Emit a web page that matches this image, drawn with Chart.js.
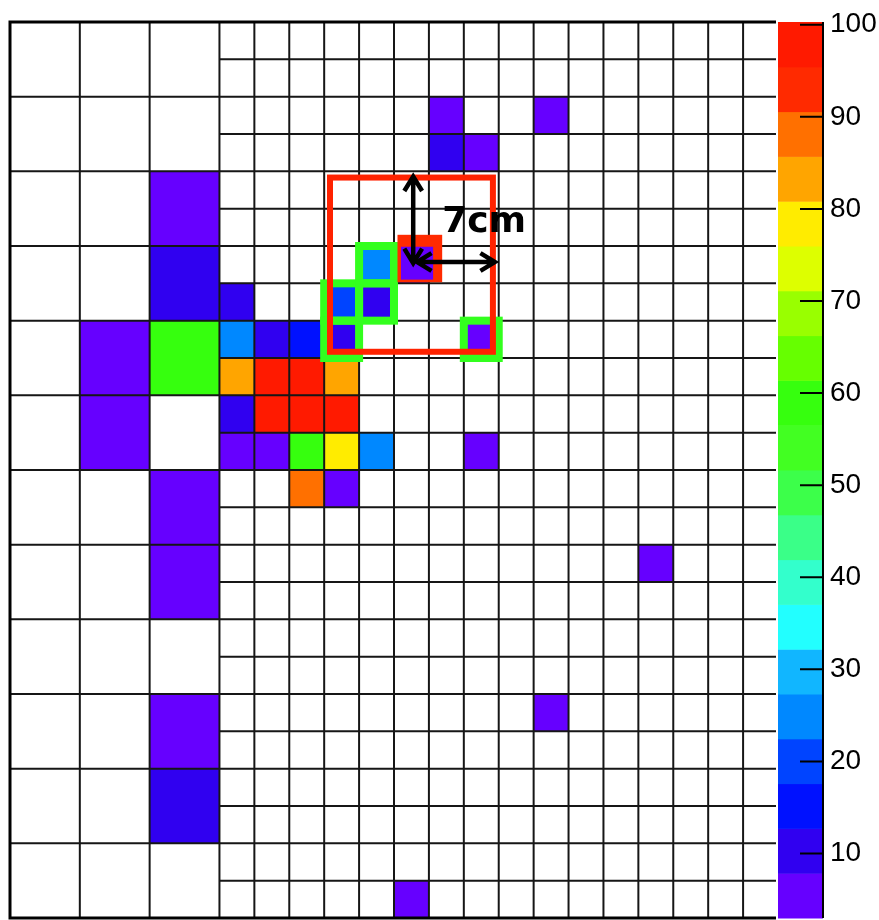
<!DOCTYPE html>
<html>
<head>
<meta charset="utf-8">
<script src="https://cdn.jsdelivr.net/npm/chart.js@4.4.1/dist/chart.umd.min.js"></script>
<style>
  html, body { margin: 0; padding: 0; background: #ffffff; }
  #wrap { width: 879px; height: 920px; position: relative; }
</style>
</head>
<body>
<div id="wrap"><canvas id="c" width="879" height="920"></canvas></div>
<script>
// ---- data ----
// coarse cells: [column, row, value] in coarse units (each coarse cell = 2x2 fine cells), row 0 = top
const coarseCells = [
  [2, 2, 5], [2, 3, 10], [1, 4, 5], [2, 4, 59], [1, 5, 5],
  [2, 6, 5], [2, 7, 5], [2, 9, 5], [2, 10, 11]
];
// fine cells: [column, row, value] in fine units, row 0 = top
const fineCells = [
  [12, 2, 5], [15, 2, 5], [12, 3, 10], [13, 3, 5],
  [10, 6, 25], [11, 6, 5],
  [6, 7, 11], [9, 7, 20], [10, 7, 10],
  [6, 8, 25], [7, 8, 10], [8, 8, 15], [9, 8, 10], [13, 8, 5],
  [6, 9, 83], [7, 9, 97], [8, 9, 96], [9, 9, 83],
  [6, 10, 10], [7, 10, 97], [8, 10, 96], [9, 10, 97],
  [6, 11, 5], [7, 11, 5], [8, 11, 59], [9, 11, 78], [10, 11, 25], [13, 11, 5],
  [8, 12, 88], [9, 12, 5],
  [18, 14, 5], [15, 18, 5], [11, 23, 5]
];
const nCoarseCols = 3, nFineCols = 22, nFineRows = 24;
const colorTicks = [10, 20, 30, 40, 50, 60, 70, 80, 90, 100];
const zMin = 3, zMax = 100.3;
const palette = [
  '#6600ff', '#3000f0', '#0011ff', '#0044ff', '#0088ff',
  '#11b6ff', '#22ffff', '#33ffcc', '#3aff88', '#3cff4a',
  '#42ff22', '#36ff0e', '#66ff00', '#99ff00', '#ddff00',
  '#ffec00', '#ffa500', '#ff7000', '#ff2a00', '#ff1a00'
];
const selectedCells = [[10, 6], [9, 7], [10, 7], [9, 8], [13, 8]];
const seedCell = [11, 6];
const cellSizeCm = 3;
const boxHalfCm = 7;
const boxLabel = '7cm';

function colorFor(v) {
  const n = palette.length;
  let i = Math.floor((v - zMin) / ((zMax - zMin) / n));
  i = Math.max(0, Math.min(n - 1, i));
  return palette[i];
}

const heatmapPlugin = {
  id: 'heatmap',
  beforeDraw(chart) {
    const ctx = chart.ctx;
    ctx.save();
    ctx.fillStyle = '#ffffff';
    ctx.fillRect(0, 0, chart.width, chart.height);
    ctx.restore();
  },
  afterDatasetsDraw(chart) {
    const ctx = chart.ctx;
    const xs = chart.scales.x, ys = chart.scales.y, zs = chart.scales.z;
    const X = v => xs.getPixelForValue(v);
    const Y = v => ys.getPixelForValue(v);
    const rect = (x0, y0, x1, y1) => [X(x0), Y(y0), X(x1) - X(x0), Y(y1) - Y(y0)];
    const coarseW = (nCoarseCols * 2);
    ctx.save();

    // cells
    coarseCells.forEach(([c, r, v]) => {
      ctx.fillStyle = colorFor(v);
      ctx.fillRect(...rect(c * 2, r * 2, c * 2 + 2, r * 2 + 2));
    });
    fineCells.forEach(([c, r, v]) => {
      ctx.fillStyle = colorFor(v);
      ctx.fillRect(...rect(c, r, c + 1, r + 1));
    });

    // grid lines
    ctx.strokeStyle = '#161616';
    ctx.lineWidth = 2;
    ctx.beginPath();
    for (let c = 1; c <= nCoarseCols; c++) {
      ctx.moveTo(X(c * 2), Y(0)); ctx.lineTo(X(c * 2), Y(nFineRows));
    }
    for (let r = 2; r < nFineRows; r += 2) {
      ctx.moveTo(X(0), Y(r)); ctx.lineTo(X(coarseW), Y(r));
    }
    for (let c = coarseW + 1; c < nFineCols; c++) {
      ctx.moveTo(X(c), Y(0)); ctx.lineTo(X(c), Y(nFineRows));
    }
    for (let r = 1; r < nFineRows; r++) {
      ctx.moveTo(X(coarseW), Y(r)); ctx.lineTo(X(nFineCols) - 2, Y(r));
    }
    ctx.stroke();

    // frame (left, top, bottom)
    ctx.strokeStyle = '#000000';
    ctx.lineWidth = 3;
    ctx.beginPath();
    ctx.moveTo(X(nFineCols) - 2, Y(0)); ctx.lineTo(X(0), Y(0));
    ctx.lineTo(X(0), Y(nFineRows)); ctx.lineTo(X(nFineCols) - 2, Y(nFineRows));
    ctx.stroke();

    // selected cells (green outline)
    ctx.strokeStyle = '#33ff1e';
    ctx.lineWidth = 8;
    selectedCells.forEach(([c, r]) => {
      ctx.strokeRect(...rect(c, r, c + 1, r + 1));
    });

    // seed cell (red square)
    const [sc, sr] = seedCell;
    ctx.fillStyle = '#ff2a00';
    ctx.fillRect(...rect(sc + 0.1, sr - 0.3, sc + 1.38, sr + 0.97));
    const seedVal = fineCells.find(d => d[0] === sc && d[1] === sr)[2];
    ctx.fillStyle = colorFor(seedVal);
    ctx.fillRect(...rect(sc + 0.2, sr + 0.02, sc + 1.12, sr + 0.9));

    // 7 cm box around seed centre
    const cx = sc + 0.5, cy = sr + 0.5, h = boxHalfCm / cellSizeCm;
    ctx.strokeStyle = '#ff2200';
    ctx.lineWidth = 6;
    ctx.strokeRect(...rect(cx - h, cy - h, cx + h, cy + h));

    // arrows
    function arrow(x1, y1, x2, y2) {
      const a = Math.atan2(y2 - y1, x2 - x1);
      const L = 17, t = 0.55;
      ctx.beginPath();
      ctx.moveTo(x1, y1); ctx.lineTo(x2, y2);
      ctx.moveTo(x2 - L * Math.cos(a - t), y2 - L * Math.sin(a - t));
      ctx.lineTo(x2, y2);
      ctx.lineTo(x2 - L * Math.cos(a + t), y2 - L * Math.sin(a + t));
      ctx.moveTo(x1 + L * Math.cos(a - t), y1 + L * Math.sin(a - t));
      ctx.lineTo(x1, y1);
      ctx.lineTo(x1 + L * Math.cos(a + t), y1 + L * Math.sin(a + t));
      ctx.stroke();
    }
    ctx.strokeStyle = '#000000';
    ctx.lineWidth = 4.5;
    ctx.lineJoin = 'miter';
    arrow(X(cx + 0.05), Y(cy - 0.04), X(cx + 0.05), Y(cy - h) - 1);
    arrow(X(cx + 0.16), Y(cy - 0.07), X(cx + h) + 2, Y(cy - 0.07));

    // label
    ctx.fillStyle = '#000000';
    ctx.font = 'bold 36px "DejaVu Sans", sans-serif';
    ctx.textAlign = 'left';
    ctx.textBaseline = 'alphabetic';
    ctx.fillText(boxLabel, X(12.38), Y(5.63));

    // colour bar
    const barL = zs.left, barR = zs.left + 45;
    const n = palette.length, step = (zMax - zMin) / n;
    for (let i = 0; i < n; i++) {
      const y0 = zs.getPixelForValue(zMin + i * step);
      const y1 = zs.getPixelForValue(zMin + (i + 1) * step);
      ctx.fillStyle = palette[i];
      ctx.fillRect(barL, y1, barR - barL, y0 - y1 + 0.5);
    }
    ctx.strokeStyle = '#000000';
    ctx.lineWidth = 2;
    ctx.beginPath();
    ctx.moveTo(barR, zs.getPixelForValue(zMax)); ctx.lineTo(barR, zs.getPixelForValue(zMin));
    colorTicks.forEach(v => {
      const y = zs.getPixelForValue(v);
      ctx.moveTo(barR - 23, y); ctx.lineTo(barR, y);
    });
    ctx.stroke();
    ctx.restore();
  }
};

new Chart(document.getElementById('c'), {
  type: 'scatter',
  data: { datasets: [{ data: [], pointRadius: 0 }] },
  options: {
    responsive: false,
    animation: false,
    devicePixelRatio: 1,
    layout: { padding: { left: 10, top: 22, right: 0, bottom: 2 } },
    plugins: { legend: { display: false }, tooltip: { enabled: false } },
    scales: {
      x: { type: 'linear', min: 0, max: nFineCols, display: false },
      y: { type: 'linear', min: 0, max: nFineRows, reverse: true, display: false },
      z: {
        type: 'linear', axis: 'y', position: 'right', min: zMin, max: zMax,
        grid: { display: false, drawTicks: false },
        border: { display: false },
        afterBuildTicks: s => { s.ticks = colorTicks.map(v => ({ value: v })); },
        afterFit: s => { s.width = 101; s.paddingTop = 0; s.paddingBottom = 0; },
        ticks: {
          padding: 52,
          color: '#000000',
          font: { family: '"Liberation Sans", Arial, sans-serif', size: 28 },
          callback: v => String(v)
        }
      }
    }
  },
  plugins: [heatmapPlugin]
});
</script>
</body>
</html>
